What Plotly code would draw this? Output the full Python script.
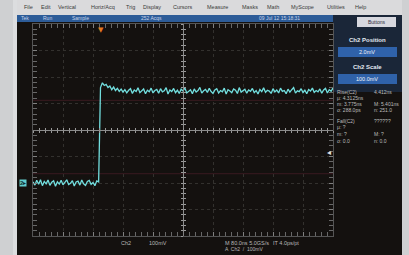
import plotly.graph_objects as go

# ---------------- data ----------------
time_start_ns = 0          # left edge of graticule
sample_ns = 5              # sample spacing
time_range_ns = [0, 800]   # 10 divisions x 80 ns
volt_range_mv = [-200, 600]  # 8 divisions x 100 mV, ground at -2 div
trigger_time_ns = 180
trigger_level_mv = 117
ref_levels_mv = [312, 35]  # 90 % and 10 % measurement levels

ch2_mv = [
    4, -8, 10, -5, 12, -10, 6, -3, 11, -9,
    3, 8, -12, 5, -4, 10, -7, 2, 12, -6,
    -1, 9, -11, 4, 7, -8, 11, -3, -9, 6,
    10, -5, 2, -10, 8, 4,
    360, 378, 368, 372, 360, 366, 352, 362, 349, 357,
    346, 354, 343, 352, 340, 350, 356, 338, 351, 345,
    359, 341, 348, 355, 337, 350, 344, 358, 340, 349,
    353, 339, 356, 344, 348, 360, 336, 351, 345, 357,
    341, 350, 338, 354, 347, 359, 340, 346, 352, 337,
    355, 343, 349, 361, 339, 348, 353, 342, 357, 345,
    338, 351, 356, 340, 349, 344, 358, 336, 352, 347,
    341, 355, 350, 338, 360, 343, 348, 354, 339, 351,
    346, 357, 341, 349, 336, 353, 345, 359, 342, 350,
    347, 338, 356, 344, 351, 340, 358, 346, 349, 337,
    354, 343, 352, 360, 339, 348, 345, 356, 341, 350,
    337, 353, 347, 358, 342, 349, 344, 355, 339, 351,
    357, 340, 352, 346, 359, 338, 350, 344,
]

menu_items = ["File", "Edit", "Vertical", "Horiz/Acq", "Trig", "Display", "Cursors",
              "Measure", "Masks", "Math", "MyScope", "Utilities", "Help"]
status_items = ["Tek", "Run", "Sample", "252 Acqs"]
timestamp = "09 Jul 12 15:18:31"
meas_left = ["Rise(C2)", "\u03bc: 4.3125ns", "m: 3.775ns", "\u03c3: 288.0ps",
             "Fall(C2)", "\u03bc: ?", "m: ?", "\u03c3: 0.0"]
meas_right = ["4.412ns", "", "M: 5.401ns", "n: 251.0",
              "??????", "", "M: ?", "n: 0.0"]

# ---------------- layout helpers ----------------
W, H = 409, 255
def px(x):
    return x / W
def py(y):
    return 1 - y / H

FONT = "Liberation Sans"
SCREEN = "#14110f"

fig = go.Figure()
fig.add_trace(go.Scatter(
    x0=time_start_ns, dx=sample_ns, y=ch2_mv, mode="lines",
    line=dict(color="#72dede", width=1.3), showlegend=False, hoverinfo="skip",
    xaxis="x", yaxis="y"))
# carriers for the centre-cross axes
for xa, ya in [("x2", "y"), ("x3", "y"), ("x", "y2"), ("x", "y3")]:
    fig.add_trace(go.Scatter(x=[], y=[], xaxis=xa, yaxis=ya, showlegend=False,
                             hoverinfo="skip"))

xdom = [px(33), px(333)]
ydom = [py(236), py(24)]

common = dict(showticklabels=False, zeroline=False, fixedrange=True)
fig.update_layout(
    width=W, height=H, margin=dict(l=0, r=0, t=0, b=0),
    paper_bgcolor="#cfd0d2", plot_bgcolor=SCREEN,
    xaxis=dict(domain=xdom, range=time_range_ns, tick0=0, dtick=80,
               showgrid=True, gridcolor="#33312e", griddash="dot", gridwidth=1,
               showline=True, linecolor="#555555", linewidth=1, mirror="allticks",
               ticks="inside", ticklen=4, tickcolor="#808080",
               minor=dict(dtick=16, ticks="inside", ticklen=2, tickcolor="#686868"),
               anchor="y", **common),
    yaxis=dict(domain=ydom, range=volt_range_mv, tick0=0, dtick=100,
               showgrid=True, gridcolor="#33312e", griddash="dot", gridwidth=1,
               showline=True, linecolor="#555555", linewidth=1, mirror="allticks",
               ticks="inside", ticklen=4, tickcolor="#808080",
               minor=dict(dtick=20, ticks="inside", ticklen=2, tickcolor="#686868"),
               anchor="x", **common),
    xaxis2=dict(overlaying="x", anchor="free", position=py(130), range=time_range_ns,
                showgrid=False, showline=True, linecolor="#8c8c8c", tick0=0, dtick=16,
                ticks="outside", ticklen=2, tickcolor="#9a9a9a", **common),
    xaxis3=dict(overlaying="x", anchor="free", position=py(130), range=time_range_ns,
                showgrid=False, showline=False, tick0=0, dtick=16,
                ticks="inside", ticklen=2, tickcolor="#9a9a9a", **common),
    yaxis2=dict(overlaying="y", anchor="free", position=px(183), range=volt_range_mv,
                showgrid=False, showline=True, linecolor="#8c8c8c", tick0=0, dtick=20,
                ticks="outside", ticklen=2, tickcolor="#9a9a9a", **common),
    yaxis3=dict(overlaying="y", anchor="free", position=px(183), range=volt_range_mv,
                showgrid=False, showline=False, tick0=0, dtick=20,
                ticks="inside", ticklen=2, tickcolor="#9a9a9a", **common),
)

shapes = []
def rect(x0, y0, x1, y1, fill, line=None, layer="below"):
    shapes.append(dict(type="rect", xref="paper", yref="paper",
                       x0=px(x0), x1=px(x1), y0=py(y1), y1=py(y0),
                       fillcolor=fill, line=dict(width=0 if line is None else 1,
                                                 color=line or fill), layer=layer))

rect(17, 15, 402, 255, SCREEN)              # scope screen
rect(17, 0, 402, 15, "#dadadc")             # menu bar
rect(13, 0, 17, 255, "#dcdddf")             # light bezel stripe
rect(17, 15, 333, 22, "#2d5c98")            # status bar
rect(333, 15, 402, 92, "#1a2638")           # right control panel
rect(357, 17, 396, 27, "#d6d7de", layer="above")   # Buttons pill
rect(338, 47, 397, 57, "#2f62aa", layer="above")
rect(338, 74, 397, 84, "#2f62aa", layer="above")

# reference levels
ref_colors = ["#3a1a20", "#3a1a20"]
for lvl, c in zip(ref_levels_mv, ref_colors):
    shapes.append(dict(type="line", xref="paper", yref="y", x0=xdom[0], x1=xdom[1],
                       y0=lvl, y1=lvl, line=dict(color=c, width=1), layer="below"))
fig.update_layout(shapes=shapes)

ann = []
def text(x, y, s, size=5.5, color="#c8c8c8", anchor="left", bold=False, bg=None):
    ann.append(dict(xref="paper", yref="paper", x=px(x), y=py(y), text=f"<b>{s}</b>" if bold else s,
                    showarrow=False, xanchor=anchor, yanchor="middle",
                    font=dict(family=FONT, size=size, color=color),
                    bgcolor=bg, borderpad=0))

# menu bar
menu_x = [23, 40, 57, 90, 125, 142, 172, 206, 241, 266, 290, 326, 354]
for mx, m in zip(menu_x, menu_items):
    text(mx, 7, m, size=5.5, color="#3a3a3a")
# status bar
for sx, s in zip([20, 42, 71, 140], status_items):
    text(sx, 18.5, s, size=5, color="#c6d3ea")
text(279, 18.5, timestamp, size=5, color="#c6d3ea", anchor="center")
text(376, 22, "Buttons", size=5, color="#2a2a3a", anchor="center")
# right panel
text(367, 40, "Ch2 Position", size=6, color="#e4eaf2", anchor="center", bold=True)
text(367, 52, "2.0mV", size=5.5, color="#f0f4fa", anchor="center")
text(367, 67, "Ch2 Scale", size=6, color="#e4eaf2", anchor="center", bold=True)
text(367, 79, "100.0mV", size=5.5, color="#f0f4fa", anchor="center")
meas_y = [92, 98, 104, 110, 121, 127, 134, 141]
for my, l, r in zip(meas_y, meas_left, meas_right):
    text(336, my, l, size=5, color="#bdbdbd")
    if r:
        text(373, my, r, size=5, color="#bdbdbd")
# bottom readouts
text(120, 243, "Ch2", size=5.5, color="#b8b8b8")
text(148, 243, "100mV", size=5.5, color="#b8b8b8")
text(224, 243, "M 80.0ns 5.0GS/s", size=5.5, color="#b8b8b8")
text(272, 243, "IT 4.0ps/pt", size=5.5, color="#b8b8b8")
text(224, 249, "A  Ch2  /  100mV", size=5, color="#b8b8b8")
# channel marker at ground level
ann.append(dict(xref="paper", yref="y", x=px(19), y=0, text="<b>2</b>\u25b8", showarrow=False,
                xanchor="left", yanchor="middle", font=dict(family=FONT, size=6, color="#10302f"),
                bgcolor="#62cccc", borderpad=0))
# trigger position & level markers
ann.append(dict(xref="x", yref="paper", x=trigger_time_ns, y=ydom[1], text="\u25bc",
                showarrow=False, yanchor="top", font=dict(family="DejaVu Sans", size=7, color="#e37a22")))
ann.append(dict(xref="paper", yref="y", x=xdom[1], y=trigger_level_mv, text="\u25c2",
                showarrow=False, xanchor="right", font=dict(family="DejaVu Sans", size=8, color="#e0e0e0")))
fig.update_layout(annotations=ann)

fig.write_html("out.html", config=dict(displayModeBar=False, staticPlot=True),
               post_script="document.body.style.margin='0';document.body.style.overflow='hidden';")
